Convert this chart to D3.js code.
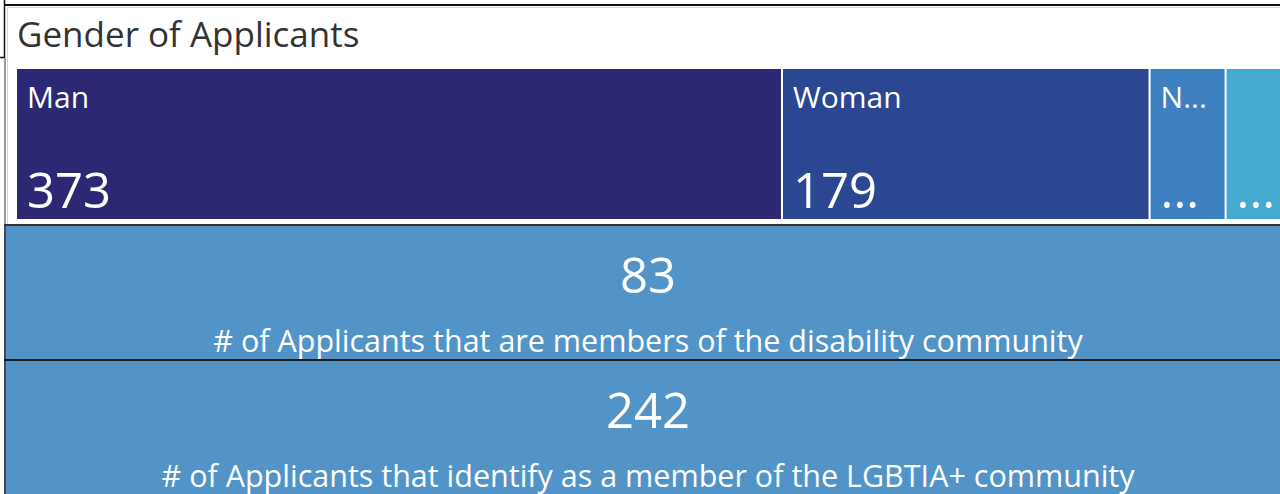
<!DOCTYPE html>
<html>
<head>
<meta charset="utf-8">
<script src="https://cdn.jsdelivr.net/npm/d3@7"></script>
<style>
  html, body { margin: 0; padding: 0; background: #ffffff; overflow: hidden; }
  svg { display: block; }
  text { font-family: "Segoe UI", "Open Sans", sans-serif; }
</style>
</head>
<body>
<script>
// ---- data ----
const chartTitle = "Gender of Applicants";
const genderCategories = ["Man", "Woman", "Non-binary", "Other"];
const genderValues = [373, 179, 37, 27];
const genderShownLabels = ["Man", "Woman", "N...", ""];
const genderShownValues = ["373", "179", "...", "..."];
const genderColors = ["#2c2873", "#2c4791", "#3e80c0", "#46aacf"];
const cardValues = [83, 242];
const cardLabels = [
  "# of Applicants that are members of the disability community",
  "# of Applicants that identify as a member of the LGBTIA+ community"
];

const W = 1280, H = 494;
const svg = d3.select("body").append("svg").attr("width", W).attr("height", H);

svg.append("rect").attr("x", 0).attr("y", 0).attr("width", W).attr("height", H).attr("fill", "#ffffff");

// treemap panel
svg.append("rect").attr("x", 7.5).attr("y", 7.5).attr("width", W).attr("height", 217)
  .attr("fill", "#ffffff").attr("stroke", "#d6d6d6").attr("stroke-width", 1);

svg.append("text").attr("x", 17).attr("y", 47)
  .attr("font-size", 35).attr("fill", "#333333").text(chartTitle);

const root = d3.hierarchy({children: genderCategories.map((c, i) => ({name: c, value: genderValues[i], idx: i}))})
  .sum(d => d.value || 0);
d3.treemap().tile(d3.treemapDice).size([1280 - 17, 219 - 69]).paddingInner(2)(root);

const g = svg.append("g").attr("transform", "translate(17,69)");
const leaves = g.selectAll("g.tile").data(root.leaves()).join("g").attr("class", "tile")
  .attr("transform", d => `translate(${d.x0},${d.y0})`);
leaves.append("rect")
  .attr("width", d => d.x1 - d.x0).attr("height", d => d.y1 - d.y0)
  .attr("fill", d => genderColors[d.data.idx]);
leaves.append("text").attr("x", 10).attr("y", 39)
  .attr("font-size", 30).attr("fill", "#ffffff")
  .text(d => genderShownLabels[d.data.idx]);
leaves.append("text").attr("x", 10).attr("y", 139)
  .attr("font-size", 49).attr("fill", "#ffffff")
  .text(d => genderShownValues[d.data.idx]);

// cards
const cardTop = [226, 361];
const cardH = [134, 134];
cardValues.forEach((v, i) => {
  svg.append("rect").attr("x", 5).attr("y", cardTop[i]).attr("width", W).attr("height", cardH[i])
    .attr("fill", "#5394c8");
  svg.append("text").attr("x", 648).attr("y", cardTop[i] + 67)
    .attr("text-anchor", "middle").attr("font-size", 49).attr("fill", "#ffffff")
    .text(d3.format(",")(v));
  svg.append("text").attr("x", 648).attr("y", cardTop[i] + 126)
    .attr("text-anchor", "middle").attr("font-size", 30.5).attr("fill", "#ffffff")
    .text(cardLabels[i]);
});

// dark separator lines
svg.append("line").attr("x1", 4).attr("x2", W).attr("y1", 5).attr("y2", 5).attr("stroke", "#111").attr("stroke-width", 2);
svg.append("line").attr("x1", 4.5).attr("x2", 4.5).attr("y1", 0).attr("y2", 58).attr("stroke", "#111").attr("stroke-width", 1.5);
svg.append("line").attr("x1", 0).attr("x2", 4).attr("y1", 57.5).attr("y2", 57.5).attr("stroke", "#111").attr("stroke-width", 1.5);
svg.append("line").attr("x1", 5).attr("x2", 5).attr("y1", 58).attr("y2", 225).attr("stroke", "#9a9a9a").attr("stroke-width", 2);
svg.append("line").attr("x1", 5).attr("x2", 5).attr("y1", 225).attr("y2", H).attr("stroke", "#4a4a4a").attr("stroke-width", 2);
svg.append("line").attr("x1", 4).attr("x2", W).attr("y1", 225).attr("y2", 225).attr("stroke", "#333").attr("stroke-width", 2);
svg.append("line").attr("x1", 4).attr("x2", W).attr("y1", 360).attr("y2", 360).attr("stroke", "#1a1a1a").attr("stroke-width", 2);
</script>
</body>
</html>
